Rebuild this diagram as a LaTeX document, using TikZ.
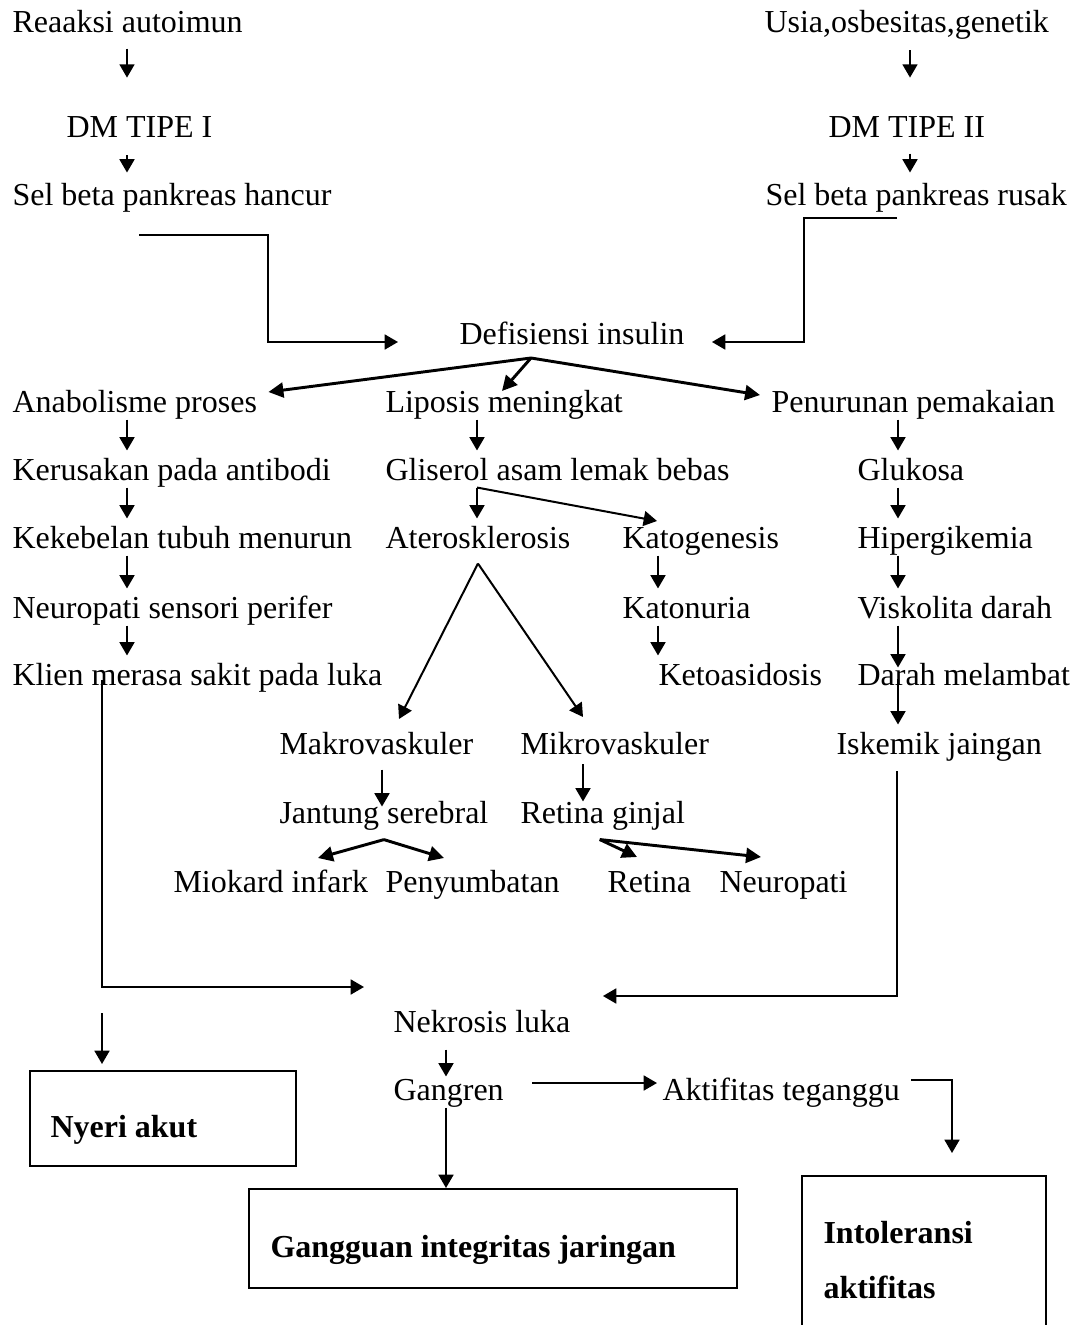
\documentclass[tikz,border=0pt]{standalone}
\usepackage{fontspec}
\setmainfont{Liberation Serif}
\usepackage{tikz}
\usetikzlibrary{positioning,arrows.meta}

\begin{document}
\begin{tikzpicture}[x=0.375pt, y=-0.375pt, font=\fontsize{12}{14}\selectfont,
    lbl/.style={anchor=base west, inner sep=0pt, text height=10.875pt, text depth=2.625pt},
    arr/.style={-{Triangle[length=5pt,width=5.6pt]}, line width=0.75pt},
    fan/.style={-{Triangle[length=5.6pt,width=5.6pt]}, line width=1.1pt},
    outBox/.style={draw, line width=0.75pt, inner sep=0pt}]
    \useasboundingbox (0,0) rectangle (1078,1325);

    % --- column guides ------------------------------------------------
    \coordinate (c1) at (127,0);
    \coordinate (c2) at (477,0);
    \coordinate (c3) at (658,0);
    \coordinate (c4) at (898,0);
    \coordinate (cR) at (910,0);
    \coordinate (cM) at (382,0);
    \coordinate (cm) at (583,0);
    \coordinate (cN) at (446,0);
    \coordinate (c5) at (952,0);

    % --- labels: name / x / baseline / text ----------------------------
    \foreach \n/\x/\y/\t in {%
        reak/12/32/{Reaaksi autoimun},
        usia/764/32/{Usia,osbesitas,genetik},
        dm1/66/137/{DM TIPE I},
        dm2/828/137/{DM TIPE II},
        sel1/12/205/{Sel beta pankreas hancur},
        sel2/765/205/{Sel beta pankreas rusak},
        defis/459/344/{Defisiensi insulin}}
    {
      \node[lbl] (\n) at (\x,\y) {\t};
    }
    \foreach \n/\x/\y/\t in {%
        anab/12/412/{Anabolisme proses},
        lipo/385/412/{Liposis meningkat},
        penu/771/412/{Penurunan pemakaian},
        kerus/12/480/{Kerusakan pada antibodi},
        glis/385/480/{Gliserol asam lemak bebas},
        glu/857/480/{Glukosa},
        keke/12/548/{Kekebelan tubuh menurun},
        ater/385/548/{Aterosklerosis},
        kato/622/548/{Katogenesis},
        hip/857/548/{Hipergikemia},
        neuro/12/618/{Neuropati sensori perifer},
        katon/622/618/{Katonuria},
        visk/857/618/{Viskolita darah},
        klien/12/685/{Klien merasa sakit pada luka},
        keto/658/685/{Ketoasidosis},
        darah/857/685/{Darah melambat}}
    {
      \node[lbl] (\n) at (\x,\y) {\t};
    }
    \foreach \n/\x/\y/\t in {%
        makro/279/754/{Makrovaskuler},
        mikro/520/754/{Mikrovaskuler},
        isk/836/754/{Iskemik jaingan},
        jant/279/823/{Jantung serebral},
        retg/520/823/{Retina ginjal},
        miok/173/892/{Miokard infark},
        peny/385/892/{Penyumbatan},
        ret/607/892/{Retina},
        neurop/719/892/{Neuropati},
        nekro/393/1032/{Nekrosis luka},
        gang/393/1100/{Gangren},
        akt/662/1100/{Aktifitas teganggu}}
    {
      \node[lbl] (\n) at (\x,\y) {\t};
    }

    % --- outcome boxes -------------------------------------------------
    \node[outBox, minimum width=99.75pt, minimum height=35.625pt] (nyeri) at (163,1118.5) {};
    \node[lbl] (nyeriT) at (50,1137) {\bfseries Nyeri akut};
    \node[outBox, minimum width=183pt, minimum height=37.125pt] (gangg) at (493,1238.5) {};
    \node[lbl] (ganggT) at (270,1257) {\bfseries Gangguan integritas jaringan};
    \node[outBox, minimum width=91.5pt, minimum height=63.375pt] (intol) at (924,1260.5) {};
    \node[lbl] (intolT) at (823,1243) {\bfseries Intoleransi};
    \node[lbl] (intolU) at (823,1298) {\bfseries aktifitas};

    % --- top chains ----------------------------------------------------
    \draw[arr, shorten <=3.4pt, shorten >=11.2pt] (reak.south -| c1) -- (dm1.north -| c1);
    \draw[arr, shorten <=4.1pt, shorten >=1.1pt] (dm1.south -| c1) -- (sel1.north -| c1);
    \draw[arr, shorten <=4.1pt, shorten >=11.2pt] (usia.south -| cR) -- (dm2.north -| cR);
    \draw[arr, shorten <=3.4pt, shorten >=1.1pt] (dm2.south -| cR) -- (sel2.north -| cR);
    \draw[arr] ([shift={(127,30)}]sel1.base west) -| (268,342) -- ([shift={(-61,-2)}]defis.base west);
    \draw[arr] ([shift={(132,13)}]sel2.base west) -| (804,342) -- ([shift={(27,-2)}]defis.base east);

    % --- fan out of insulin deficiency ---------------------------------
    \coordinate (fDef) at ([shift={(72,14)}]defis.base west);
    \draw[fan] (fDef) -- ([shift={(11,-20)}]anab.base east);
    \draw[fan] (fDef) -- ([shift={(117,-21)}]lipo.base west);
    \draw[fan] (fDef) -- ([shift={(-11,-17)}]penu.base west);

    % --- column arrows -------------------------------------------------
    \foreach \a/\b/\c in {anab/kerus/c1, kerus/keke/c1, keke/neuro/c1, neuro/klien/c1,
        lipo/glis/c2, glis/ater/c2, kato/katon/c3, katon/keto/c3,
        penu/glu/c4, glu/hip/c4, hip/visk/c4}
      \draw[arr] (\a.south -| \c) -- (\b.north -| \c);
    \draw[arr, shorten >=-4.5pt] (visk.south -| c4) -- (darah.north -| c4);
    \draw[arr, shorten <=-5.25pt] (darah.south -| c4) -- (isk.north -| c4);
    \draw[arr] (glis.south -| c2) -- ([shift={(35,-27)}]kato.base west);

    % --- vascular branch -----------------------------------------------
    \coordinate (fAter) at ([yshift=-3pt]ater.south);
    \draw[arr] (fAter) -- ([shift={(120,-35)}]makro.base west);
    \draw[arr] (fAter) -- ([shift={(63,-37)}]mikro.base west);
    \draw[arr, shorten <=3pt, shorten >=-4.9pt] (makro.south -| cM) -- (jant.north -| cM);
    \draw[arr, shorten <=1pt, shorten >=-3pt] (mikro.south -| cm) -- (retg.north -| cm);
    \coordinate (fJant) at ([yshift=-3.4pt]jant.south);
    \draw[fan] (fJant) -- ([shift={(145,-34)}]miok.base west);
    \draw[fan] (fJant) -- ([shift={(59,-34)}]peny.base west);
    \coordinate (fRet) at ([shift={(-3,9)}]retg.south);
    \draw[fan] (fRet) -- ([shift={(30,-35)}]ret.base west);
    \draw[fan] (fRet) -- ([shift={(42,-35)}]neurop.base west);

    % --- into necrosis and outcomes ------------------------------------
    \draw[arr] ([shift={(90,-5)}]klien.base west) |- ([shift={(-29,-45)}]nekro.base west);
    \draw[arr] ([shift={(61,17)}]isk.base west) |- ([shift={(32,-36)}]nekro.base east);
    \coordinate (ny) at (102,1013);
    \draw[arr, shorten >=2.25pt] (ny) -- (ny |- nyeri.north);
    \draw[arr, shorten <=3.75pt, shorten >=-2.25pt] (nekro.south -| cN) -- (gang.north -| cN);
    \draw[arr] (gang.south -| cN) -- (gangg.north -| cN);
    \draw[arr] ([shift={(28,-17)}]gang.base east) -- ([shift={(-5,-17)}]akt.base west);
    \draw[arr] ([shift={(11,-20)}]akt.base east) -| ([yshift=8.25pt]intol.north -| c5);
  \end{tikzpicture}
\end{document}
